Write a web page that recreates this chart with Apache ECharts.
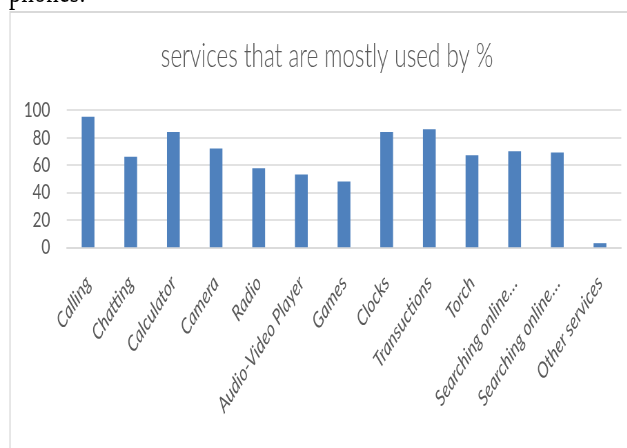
<!DOCTYPE html>
<html>
<head>
<meta charset="utf-8">
<title>services that are mostly used by %</title>
<script src="https://cdn.jsdelivr.net/npm/echarts@6/dist/echarts.min.js"></script>
<style>
  html, body { margin: 0; padding: 0; background: #fff; overflow: hidden; }
  /* the source picture is squeezed sideways, so draw wide and scale down in x */
  #main { width: 909px; height: 448px; transform: scaleX(0.69); transform-origin: 0 0; }
</style>
</head>
<body>
<div id="main"></div>
<script>
// data
var services = ['Calling', 'Chatting', 'Calculator', 'Camera', 'Radio', 'Audio-Video Player', 'Games',
  'Clocks', 'Transuctions', 'Torch', 'Searching online…', 'Searching online…', 'Other services'];
var usedPct = [95, 66, 84, 72, 57.5, 53, 48, 84, 86, 67, 70, 69, 3];
var yTicks = [0, 20, 40, 60, 80, 100];

var grey = '#595959';
var lineGrey = '#d9d9d9';

var myChart = echarts.init(document.getElementById('main'));
myChart.setOption({
  animation: false,
  title: {
    text: 'services that are mostly used by %',
    left: 469,
    top: 35,
    textAlign: 'center',
    textStyle: { fontFamily: 'Lato', fontWeight: 300, fontSize: 32.5, color: grey }
  },
  graphic: [
    {
      // bit of the document text above the chart
      type: 'text',
      style: { text: 'phones.', x: 13, y: 11, fontFamily: 'Liberation Serif', fontSize: 36,
        fill: '#000', align: 'left', verticalAlign: 'bottom' }
    },
    {
      // chart frame, runs off the right and bottom
      type: 'rect',
      shape: { x: 14.5, y: 12, width: 2000, height: 2000 },
      style: { fill: 'none', stroke: lineGrey, lineWidth: 2 }
    }
  ],
  grid: { left: 96.7, right: 8.6, top: 110, height: 137.3, containLabel: false },
  xAxis: {
    type: 'category',
    data: services,
    axisLine: { lineStyle: { color: lineGrey, width: 1.5 } },
    axisTick: { show: false },
    axisLabel: {
      interval: 0,
      rotate: 48,
      margin: 32,
      color: grey,
      fontFamily: 'Lato',
      fontStyle: 'italic',
      fontSize: 22
    }
  },
  yAxis: {
    type: 'value',
    min: yTicks[0],
    max: yTicks[yTicks.length - 1],
    interval: yTicks[1] - yTicks[0],
    axisLine: { show: false },
    axisTick: { show: false },
    splitLine: { lineStyle: { color: lineGrey, width: 1.5 } },
    axisLabel: { margin: 24, color: grey, fontFamily: 'Lato', fontSize: 22 }
  },
  series: [
    {
      type: 'bar',
      data: usedPct,
      barWidth: '30%',
      itemStyle: { color: '#4f81bd' }
    }
  ]
});
</script>
</body>
</html>
